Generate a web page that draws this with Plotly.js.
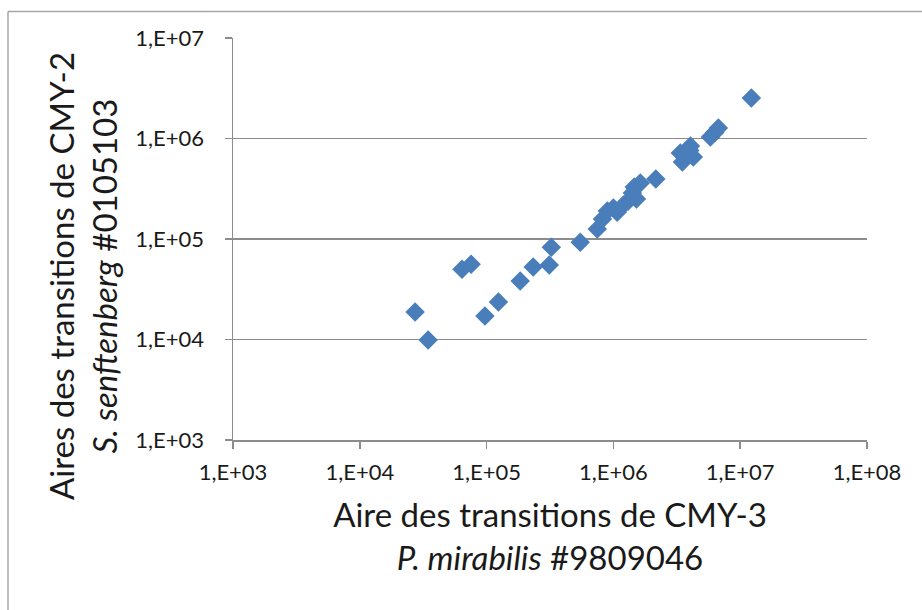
<!DOCTYPE html>
<html>
<head>
<meta charset="utf-8">
<script src="https://cdn.plot.ly/plotly-3.0.1.min.js"></script>
<style>
  html, body { margin: 0; padding: 0; background: #ffffff; }
  #chart { width: 922px; height: 610px; }
</style>
</head>
<body>
<div id="chart"></div>
<script>
// CMY-3 transition areas (P. mirabilis #9809046)
var xValues = [2.73e4, 3.46e4, 6.4e4, 7.55e4, 9.7e4, 1.24e5, 1.84e5, 2.33e5, 3.12e5, 3.24e5,
               5.48e5, 7.46e5, 8.2e5, 8.95e5, 1.0e6, 1.07e6, 1.2e6, 1.31e6, 1.41e6, 1.52e6,
               1.46e6, 1.63e6, 2.16e6, 3.37e6, 3.5e6, 4.05e6, 4.27e6, 4.0e6, 5.82e6, 6.3e6,
               6.73e6, 1.225e7];
// CMY-2 transition areas (S. senftenberg #0105103)
var yValues = [1.88e4, 9.9e3, 5.0e4, 5.6e4, 1.71e4, 2.36e4, 3.82e4, 5.26e4, 5.5e4, 8.3e4,
               9.3e4, 1.26e5, 1.58e5, 1.9e5, 2.03e5, 1.85e5, 2.18e5, 2.39e5, 2.87e5, 2.5e5,
               3.29e5, 3.6e5, 3.96e5, 7.18e5, 5.84e5, 8.4e5, 6.55e5, 7.6e5, 1.035e6, 1.15e6,
               1.27e6, 2.53e6];

var xTickVals = [1e3, 1e4, 1e5, 1e6, 1e7, 1e8];
var xTickText = ['1,E+03', '1,E+04', '1,E+05', '1,E+06', '1,E+07', '1,E+08'];
var yTickVals = [1e3, 1e4, 1e5, 1e6, 1e7];
var yTickText = ['1,E+03', '1,E+04', '1,E+05', '1,E+06', '1,E+07'];

var xTitle = 'Aire des transitions de CMY-3<br><i>P. mirabilis</i> #9809046';
var yTitle = 'Aires des transitions de CMY-2<br><i>S. senftenberg</i> #0105103';

var FONT = 'Lato, "Open Sans", sans-serif';
var W = 922, H = 610, L = 233, R = 55, T = 38, B = 170;
var pw = W - L - R, ph = H - T - B;
function px2x(p) { return (p - L) / pw; }
function px2y(p) { return (H - B - p) / ph; }

var trace = {
  type: 'scatter',
  mode: 'markers',
  x: xValues,
  y: yValues,
  marker: { symbol: 'diamond', size: 15, color: '#4a7ebb', line: { width: 0 } },
  hoverinfo: 'x+y'
};

var layout = {
  width: W, height: H,
  margin: { l: L, r: R, t: T, b: B },
  paper_bgcolor: '#ffffff',
  plot_bgcolor: '#ffffff',
  showlegend: false,
  font: { family: FONT, color: '#1a1a1a' },
  xaxis: {
    type: 'log',
    range: [3, 8],
    tickmode: 'array',
    tickvals: xTickVals,
    ticktext: xTickText,
    ticks: 'outside',
    ticklen: 7,
    tickcolor: '#8c8c8c',
    tickwidth: 1.5,
    ticklabelstandoff: 5,
    tickfont: { family: FONT, size: 22, color: '#1a1a1a' },
    showgrid: false,
    showline: true,
    linecolor: '#8c8c8c',
    linewidth: 1.5,
    zeroline: false,
    title: { text: xTitle, font: { family: FONT, size: 33, color: '#1a1a1a' }, standoff: 20 }
  },
  yaxis: {
    type: 'log',
    range: [3, 7],
    tickmode: 'array',
    tickvals: yTickVals,
    ticktext: yTickText,
    ticks: 'outside',
    ticklen: 7,
    tickcolor: '#8c8c8c',
    tickwidth: 1.5,
    ticklabelstandoff: 16,
    tickfont: { family: FONT, size: 22, color: '#1a1a1a' },
    showgrid: true,
    gridcolor: '#8c8c8c',
    gridwidth: 1.5,
    showline: true,
    linecolor: '#8c8c8c',
    linewidth: 1.5,
    zeroline: false
  },
  annotations: [{
    text: yTitle,
    xref: 'paper', yref: 'paper',
    x: px2x(82), y: px2y(276),
    xanchor: 'center', yanchor: 'middle',
    textangle: -90,
    showarrow: false,
    font: { family: FONT, size: 33, color: '#1a1a1a' }
  }],
  shapes: [
    { type: 'line', xref: 'paper', yref: 'paper', x0: px2x(8), x1: px2x(930), y0: px2y(11.5), y1: px2y(11.5),
      line: { color: '#a6a6a6', width: 1.5 } },
    { type: 'line', xref: 'paper', yref: 'paper', x0: px2x(8), x1: px2x(8), y0: px2y(11.5), y1: px2y(620),
      line: { color: '#a6a6a6', width: 1.5 } }
  ]
};

Plotly.newPlot('chart', [trace], layout, { displayModeBar: false, staticPlot: true });
</script>
</body>
</html>
